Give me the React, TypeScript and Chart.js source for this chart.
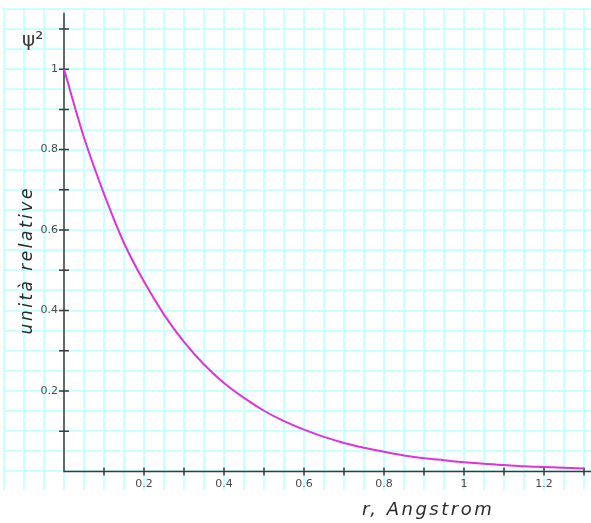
import React, { useEffect, useRef } from "react";
import { Chart, registerables } from "chart.js";

Chart.register(...registerables);

// r (Angstrom) sample positions and read-off psi^2 values
const rValues = [0, 0.05, 0.1, 0.15, 0.2, 0.25, 0.3, 0.35, 0.4, 0.45, 0.5, 0.55, 0.6, 0.65, 0.7, 0.75, 0.8, 0.85, 0.9, 0.95, 1.0, 1.05, 1.1, 1.15, 1.2, 1.25, 1.3];
const psi2Values = [1.0, 0.83, 0.69, 0.568, 0.472, 0.39, 0.322, 0.266, 0.22, 0.183, 0.151, 0.125, 0.104, 0.086, 0.071, 0.059, 0.049, 0.04, 0.033, 0.028, 0.023, 0.019, 0.016, 0.013, 0.011, 0.009, 0.0075];

// axis ranges, grid step, tick marks and labels
const xRange = [-0.15, 1.3175];
const yRange = [-0.046, 1.152];
const gridStep = 0.05;
const xTickMarks = [0.1, 0.2, 0.3, 0.4, 0.5, 0.6, 0.7, 0.8, 0.9, 1.0, 1.1, 1.2, 1.3];
const yTickMarks = [0.1, 0.2, 0.3, 0.4, 0.5, 0.6, 0.7, 0.8, 0.9, 1.0, 1.1];
const xLabelValues = [0.2, 0.4, 0.6, 0.8, 1.0, 1.2];
const xLabelTexts = ["0.2", "0.4", "0.6", "0.8", "1", "1.2"];
const yLabelValues = [0.2, 0.4, 0.6, 0.8, 1.0];
const yLabelTexts = ["0.2", "0.4", "0.6", "0.8", "1"];
const yAxisTop = 1.14;

const xTitle = "r, Angstrom";
const yTitle = "unità relative";
const psiLabel = "ψ²";

const gridColor = "#ccffff";
const axisColor = "#3a3a3a";
const curveColor = "#dd33dd";
const labelColor = "#4a4a4a";

function gridTicks(min: number, max: number) {
  const out: { value: number }[] = [];
  const start = Math.ceil(min / gridStep - 1e-9);
  const end = Math.floor(max / gridStep + 1e-9);
  for (let i = start; i <= end; i++) out.push({ value: +(i * gridStep).toFixed(4) });
  return out;
}

function labelFor(values: number[], texts: string[], v: number) {
  const i = values.findIndex((a) => Math.abs(a - v) < 1e-6);
  return i >= 0 ? texts[i] : "";
}

const decorPlugin = {
  id: "decor",
  beforeDatasetsDraw(chart: any) {
    const { ctx, scales } = chart;
    const xs = scales.x;
    const ys = scales.y;
    const x0 = xs.getPixelForValue(0);
    const y0 = ys.getPixelForValue(0);
    ctx.save();
    ctx.strokeStyle = axisColor;
    ctx.lineWidth = 1.5;
    ctx.beginPath();
    ctx.moveTo(x0, ys.getPixelForValue(yAxisTop));
    ctx.lineTo(x0, y0);
    ctx.lineTo(xs.getPixelForValue(xRange[1]), y0);
    ctx.stroke();
    ctx.beginPath();
    for (const v of yTickMarks) {
      const p = ys.getPixelForValue(v);
      ctx.moveTo(x0 - 5, p);
      ctx.lineTo(x0 + 5, p);
    }
    for (const v of xTickMarks) {
      const p = xs.getPixelForValue(v);
      ctx.moveTo(p, y0 - 4);
      ctx.lineTo(p, y0 + 4);
    }
    ctx.stroke();
    ctx.restore();
  },
  afterDraw(chart: any) {
    const { ctx, scales } = chart;
    const xs = scales.x;
    const ys = scales.y;
    const x0 = xs.getPixelForValue(0);
    const y0 = ys.getPixelForValue(0);
    ctx.save();
    ctx.fillStyle = labelColor;
    ctx.font = "11px 'DejaVu Sans', sans-serif";
    ctx.textAlign = "right";
    ctx.textBaseline = "middle";
    yLabelValues.forEach((v) => {
      ctx.fillText(labelFor(yLabelValues, yLabelTexts, v), x0 - 6, ys.getPixelForValue(v));
    });
    ctx.textAlign = "center";
    ctx.textBaseline = "top";
    xLabelValues.forEach((v) => {
      ctx.fillText(labelFor(xLabelValues, xLabelTexts, v), xs.getPixelForValue(v), y0 + 7);
    });
    // titles
    ctx.fillStyle = "#2a2a2a";
    ctx.font = "oblique 18px 'DejaVu Sans', sans-serif";
    ctx.textAlign = "left";
    ctx.textBaseline = "middle";
    (ctx as any).letterSpacing = "2.5px";
    ctx.fillText(xTitle, xs.getPixelForValue(0.745), y0 + 39);
    ctx.save();
    ctx.font = "oblique 17px 'DejaVu Sans', sans-serif";
    (ctx as any).letterSpacing = "2.5px";
    ctx.translate(xs.getPixelForValue(-0.09), ys.getPixelForValue(0.525));
    ctx.rotate(-Math.PI / 2);
    ctx.textAlign = "center";
    ctx.fillText(yTitle, 0, 0);
    ctx.restore();
    (ctx as any).letterSpacing = "0px";
    ctx.fillStyle = "#3a3a3a";
    ctx.font = "20px 'DejaVu Sans', sans-serif";
    ctx.textAlign = "left";
    ctx.fillText(psiLabel, xs.getPixelForValue(-0.105), ys.getPixelForValue(1.07));
    ctx.restore();
  },
};

export default function App() {
  const ref = useRef<HTMLCanvasElement | null>(null);
  useEffect(() => {
    if (!ref.current) return;
    const chart = new Chart(ref.current, {
      type: "line",
      data: {
        datasets: [
          {
            data: rValues.map((r, i) => ({ x: r, y: psi2Values[i] })),
            borderColor: curveColor,
            borderWidth: 2,
            pointRadius: 0,
            tension: 0.4,
            cubicInterpolationMode: "monotone",
            fill: false,
          },
        ],
      },
      options: {
        animation: false,
        responsive: false,
        devicePixelRatio: 1,
        layout: { padding: { left: 4, top: 8, right: 0, bottom: 33 } },
        plugins: { legend: { display: false }, tooltip: { enabled: false }, title: { display: false } },
        scales: {
          x: {
            type: "linear",
            min: xRange[0],
            max: xRange[1],
            afterBuildTicks: (s: any) => {
              s.ticks = gridTicks(xRange[0], xRange[1]);
            },
            grid: { color: gridColor, lineWidth: 2, drawTicks: false },
            border: { display: false },
            ticks: { display: false, callback: () => "" },
          },
          y: {
            type: "linear",
            min: yRange[0],
            max: yRange[1],
            afterBuildTicks: (s: any) => {
              s.ticks = gridTicks(yRange[0], yRange[1]);
            },
            grid: { color: gridColor, lineWidth: 2, drawTicks: false },
            border: { display: false },
            ticks: { display: false, callback: () => "" },
          },
        },
      },
      plugins: [decorPlugin],
    } as any);
    return () => chart.destroy();
  }, []);
  return (
    <div style={{ position: "fixed", left: 0, top: 0, width: 591, height: 523, background: "#fff" }}>
      <canvas ref={ref} width={591} height={523} />
    </div>
  );
}
